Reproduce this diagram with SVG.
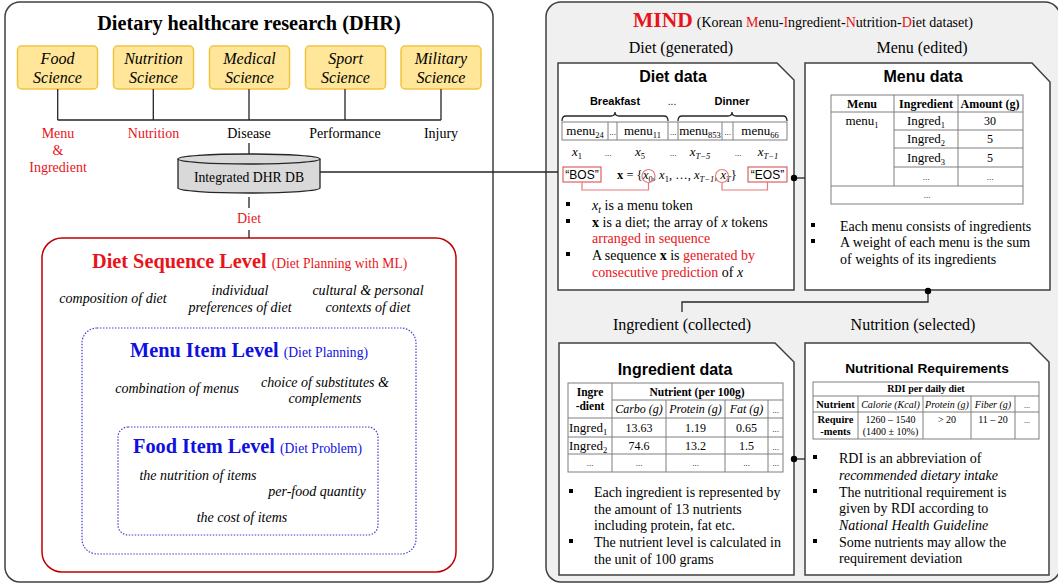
<svg xmlns="http://www.w3.org/2000/svg" width="1058" height="585" viewBox="0 0 1058 585">
<style>
.s{font-family:"Liberation Serif","Times New Roman",serif}
.a{font-family:"Liberation Sans",Arial,sans-serif}
.i{font-style:italic}
.b{font-weight:bold}
.c{text-anchor:middle}
.red{fill:#e8141b}
.blue{fill:#1010e0}
.panel{stroke:#404040;stroke-width:1.5}
.card{fill:#fff;stroke:#404040;stroke-width:1.5}
.yb{fill:#ffe699;stroke:#f2c440;stroke-width:1.5}
.ln{stroke:#262626;stroke-width:1.3;fill:none}
.tb{stroke:#7f7f7f;stroke-width:1;fill:none}
.pk{stroke:#e87a7a;stroke-width:1.2;fill:none}
.dot{fill:#000}
.bul{fill:#000}
.sb{font-size:8.5px;baseline-shift:-3px}
</style>

<!-- Left panel -->
<g id="dhr-panel">
<rect x="5" y="2" width="488" height="580" rx="15" fill="#fff" class="panel"/>
<text x="249" y="30" class="s b c" font-size="20.3">Dietary healthcare research (DHR)</text>
</g>

<g id="food-science"><rect x="17.5" y="46" width="80" height="43" rx="4" class="yb"/>
<text x="57.5" y="64" class="s i c" font-size="16">Food</text><text x="57.5" y="83" class="s i c" font-size="16">Science</text></g>
<g id="nutrition-science"><rect x="113.5" y="46" width="80" height="43" rx="4" class="yb"/>
<text x="153.5" y="64" class="s i c" font-size="16">Nutrition</text><text x="153.5" y="83" class="s i c" font-size="16">Science</text></g>
<g id="medical-science"><rect x="209.5" y="46" width="80" height="43" rx="4" class="yb"/>
<text x="249.5" y="64" class="s i c" font-size="16">Medical</text><text x="249.5" y="83" class="s i c" font-size="16">Science</text></g>
<g id="sport-science"><rect x="305.5" y="46" width="80" height="43" rx="4" class="yb"/>
<text x="345.5" y="64" class="s i c" font-size="16">Sport</text><text x="345.5" y="83" class="s i c" font-size="16">Science</text></g>
<g id="military-science"><rect x="401" y="46" width="80" height="43" rx="4" class="yb"/>
<text x="441" y="64" class="s i c" font-size="16">Military</text><text x="441" y="83" class="s i c" font-size="16">Science</text></g>

<g id="labels">
<text x="58" y="138" class="s c red" font-size="14">Menu</text>
<text x="58" y="155" class="s c red" font-size="14">&amp;</text>
<text x="58" y="172" class="s c red" font-size="14">Ingredient</text>
<text x="153.5" y="138" class="s c red" font-size="14">Nutrition</text>
<text x="249" y="138" class="s c" font-size="14">Disease</text>
<text x="345" y="138" class="s c" font-size="14">Performance</text>
<text x="441" y="138" class="s c" font-size="14">Injury</text>
<text x="249" y="223" class="s c red" font-size="14">Diet</text>
</g>

<g id="dhr-db">
<path d="M178,159 V188 A71,5 0 0 0 320,188 V159" fill="#d9d9d9" stroke="#262626" stroke-width="1.3"/>
<ellipse cx="249" cy="159" rx="71" ry="5" fill="#d9d9d9" stroke="#262626" stroke-width="1.3"/>
<text x="249" y="182" class="s c" font-size="13.7">Integrated DHR DB</text>
</g>

<g id="diet-sequence-level">
<rect x="42" y="238" width="414" height="334" rx="20" fill="none" stroke="#c00000" stroke-width="1.5"/>
<text x="92" y="268" class="s red"><tspan class="b" font-size="20.3">Diet Sequence Level </tspan><tspan font-size="13.6">(Diet Planning with ML)</tspan></text>
<text x="113" y="303" class="s i c" font-size="14">composition of diet</text>
<text x="240" y="295" class="s i c" font-size="14">individual</text>
<text x="240" y="312" class="s i c" font-size="14">preferences of diet</text>
<text x="368" y="295" class="s i c" font-size="14">cultural &amp; personal</text>
<text x="368" y="312" class="s i c" font-size="14">contexts of diet</text>
</g>

<g id="menu-item-level">
<rect x="82" y="328" width="334" height="226" rx="15" fill="none" stroke="#4040d0" stroke-width="1.2" stroke-dasharray="1.5,1.5"/>
<text x="130" y="357" class="s blue"><tspan class="b" font-size="20.3">Menu Item Level </tspan><tspan font-size="13.6">(Diet Planning)</tspan></text>
<text x="177" y="393" class="s i c" font-size="14">combination of menus</text>
<text x="325" y="387" class="s i c" font-size="14">choice of substitutes &amp;</text>
<text x="325" y="403" class="s i c" font-size="14">complements</text>
</g>

<g id="food-item-level">
<rect x="118" y="427" width="260" height="108" rx="10" fill="none" stroke="#4040d0" stroke-width="1.2" stroke-dasharray="1.5,1.5"/>
<text x="133" y="453" class="s blue"><tspan class="b" font-size="20.3">Food Item Level </tspan><tspan font-size="13.6">(Diet Problem)</tspan></text>
<text x="198" y="480" class="s i c" font-size="14">the nutrition of items</text>
<text x="317" y="496" class="s i c" font-size="14">per-food quantity</text>
<text x="242" y="522" class="s i c" font-size="14">the cost of items</text>
</g>

<!-- Right panel -->
<g id="mind-panel">
<rect x="546" y="2" width="514" height="580" rx="15" fill="#f0f0f0" class="panel"/>
<text x="633" y="27" class="s"><tspan class="b red" font-size="21.5">MIND</tspan><tspan font-size="14" dx="4">(Korean </tspan><tspan font-size="14" class="red">M</tspan><tspan font-size="14">enu-</tspan><tspan font-size="14" class="red">I</tspan><tspan font-size="14">ngredient-</tspan><tspan font-size="14" class="red">N</tspan><tspan font-size="14">utrition-</tspan><tspan font-size="14" class="red">D</tspan><tspan font-size="14">iet  dataset)</tspan></text>
<text x="681" y="53" class="s c" font-size="16">Diet (generated)</text>
<text x="922" y="53" class="s c" font-size="16">Menu (edited)</text>
<text x="682" y="330" class="s c" font-size="16">Ingredient  (collected)</text>
<text x="913" y="330" class="s c" font-size="16">Nutrition (selected)</text>
</g>

<g id="diet-data">
<path d="M558,63 H777 L794,80 V290 H558 Z" class="card"/>
<text x="673" y="82" class="a b c" font-size="16">Diet data</text>
<text x="615" y="105" class="a b c" font-size="11">Breakfast</text>
<text x="672" y="105" class="a c" font-size="10">...</text>
<text x="732" y="105" class="a b c" font-size="11">Dinner</text>
<path d="M562,121 Q562,116 566,116 H611 Q615,116 615,112 Q615,116 619,116 H664 Q668,116 668,121" class="ln" stroke-width="1"/>
<path d="M678,121 Q678,116 682,116 H728 Q732,116 732,112 Q732,116 736,116 H783 Q787,116 787,121" class="ln" stroke-width="1"/>
<rect x="562" y="122" width="225" height="18" class="tb"/>
<path d="M608,122V140M617,122V140M668,122V140M678,122V140M722,122V140M733,122V140" class="tb"/>
<g class="s c" font-size="13">
<text x="585" y="135">menu<tspan class="sb">24</tspan></text>
<text x="612.5" y="135" font-size="9">...</text>
<text x="642.5" y="135">menu<tspan class="sb">11</tspan></text>
<text x="673" y="135" font-size="9">...</text>
<text x="700" y="135">menu<tspan class="sb">853</tspan></text>
<text x="727.5" y="135" font-size="9">...</text>
<text x="760" y="135">menu<tspan class="sb">66</tspan></text>
</g>
<g class="s c" font-size="13">
<text x="577" y="156"><tspan class="i">x</tspan><tspan class="sb">1</tspan></text>
<text x="608" y="156" font-size="9">...</text>
<text x="640" y="156"><tspan class="i">x</tspan><tspan class="sb">5</tspan></text>
<text x="673" y="156" font-size="9">...</text>
<text x="700" y="156"><tspan class="i">x</tspan><tspan class="sb i">T−5</tspan></text>
<text x="738" y="156" font-size="9">...</text>
<text x="768" y="156"><tspan class="i">x</tspan><tspan class="sb i">T−1</tspan></text>
</g>
<rect x="563" y="167" width="38" height="15" fill="#fff" stroke="#e06060" stroke-width="1.2"/>
<text x="582" y="179" class="a c" font-size="12">“BOS”</text>
<rect x="748" y="167" width="39" height="15" fill="#fff" stroke="#e06060" stroke-width="1.2"/>
<text x="767.5" y="179" class="a c" font-size="12">“EOS”</text>
<text x="617" y="179" class="s" font-size="12.5"><tspan class="b">x</tspan> = {<tspan x="643" class="i">x</tspan><tspan class="sb">0</tspan>, <tspan class="i">x</tspan><tspan class="sb">1</tspan>, …, <tspan class="i">x</tspan><tspan class="sb i">T−1</tspan>, <tspan class="i">x</tspan><tspan class="sb i">T</tspan>}</text>
<circle cx="648.5" cy="176" r="6.5" class="pk"/>
<circle cx="722" cy="176" r="6.5" class="pk"/>
<path d="M582,182 V190 H648.5 V182.5 M722,182.5 V190 H767.5 V182" class="pk"/>
<rect x="566" y="202" width="4" height="4" class="bul"/>
<rect x="566" y="219" width="4" height="4" class="bul"/>
<rect x="566" y="252" width="4" height="4" class="bul"/>
<g class="s" font-size="14">
<text x="592" y="210"><tspan class="i">x</tspan><tspan class="i" font-size="10" baseline-shift="-3">t</tspan> is a menu token</text>
<text x="592" y="227"><tspan class="b">x</tspan> is a diet; the array of <tspan class="i">x</tspan> tokens</text>
<text x="592" y="243" class="red">arranged in sequence</text>
<text x="592" y="260">A sequence <tspan class="b">x</tspan> is <tspan class="red">generated by</tspan></text>
<text x="592" y="277"><tspan class="red">consecutive prediction</tspan> of <tspan class="i">x</tspan></text>
</g>
</g>

<g id="menu-data">
<path d="M805,63 H1032 L1050,82 V290 H805 Z" class="card"/>
<text x="923" y="82" class="a b c" font-size="16">Menu data</text>
<rect x="831" y="95" width="192" height="109" class="tb"/>
<path d="M831,112H1023M894,95V186M958,95V186M894,130H1023M894,148H1023M894,167H1023M831,186H1023" class="tb"/>
<g class="s c" font-size="12">
<text x="862" y="108" class="b">Menu</text>
<text x="926" y="108" class="b">Ingredient</text>
<text x="990" y="108" class="b">Amount (g)</text>
<text x="862" y="125" font-size="13">menu<tspan class="sb">1</tspan></text>
<text x="926" y="125" font-size="13">Ingred<tspan class="sb">1</tspan></text>
<text x="990" y="125">30</text>
<text x="926" y="143" font-size="13">Ingred<tspan class="sb">2</tspan></text>
<text x="990" y="143">5</text>
<text x="926" y="162" font-size="13">Ingred<tspan class="sb">3</tspan></text>
<text x="990" y="162">5</text>
<text x="926" y="180" font-size="9">...</text>
<text x="990" y="180" font-size="9">...</text>
<text x="927" y="198" font-size="9">...</text>
</g>
<rect x="811" y="223" width="4" height="4" class="bul"/>
<rect x="811" y="239" width="4" height="4" class="bul"/>
<g class="s" font-size="14">
<text x="840" y="231">Each menu consists of ingredients</text>
<text x="840" y="247">A weight of each menu is the sum</text>
<text x="840" y="264">of weights of its ingredients</text>
</g>
</g>

<g id="ingredient-data">
<path d="M559,343 H775 L794,362 V575 H559 Z" class="card"/>
<text x="675" y="375" class="a b c" font-size="16">Ingredient data</text>
<rect x="568" y="383" width="215" height="89" class="tb"/>
<path d="M612,400H783M568,418H783M568,437H783M568,454H783M612,383V472M666,400V472M725,400V472M768,400V472" class="tb"/>
<g class="s c" font-size="12">
<text x="590" y="396" class="b" font-size="11.5">Ingre</text>
<text x="590" y="410" class="b" font-size="11.5">-dient</text>
<text x="697" y="396" class="b" font-size="11.5">Nutrient (per 100g)</text>
<text x="639" y="413" class="i">Carbo (g)</text>
<text x="695.5" y="413" class="i">Protein (g)</text>
<text x="746.5" y="413" class="i">Fat (g)</text>
<text x="775.5" y="413" font-size="9">...</text>
<text x="569" y="432" font-size="13" text-anchor="start">Ingred<tspan class="sb">1</tspan></text>
<text x="639" y="432">13.63</text>
<text x="695.5" y="432">1.19</text>
<text x="746.5" y="432">0.65</text>
<text x="775.5" y="432" font-size="9">...</text>
<text x="569" y="450" font-size="13" text-anchor="start">Ingred<tspan class="sb">2</tspan></text>
<text x="639" y="450">74.6</text>
<text x="695.5" y="450">13.2</text>
<text x="746.5" y="450">1.5</text>
<text x="775.5" y="450" font-size="9">...</text>
<text x="590" y="466" font-size="9">...</text>
<text x="639" y="466" font-size="9">...</text>
<text x="695.5" y="466" font-size="9">...</text>
<text x="746.5" y="466" font-size="9">...</text>
<text x="775.5" y="466" font-size="9">...</text>
</g>
<rect x="569" y="489" width="4" height="4" class="bul"/>
<rect x="569" y="539" width="4" height="4" class="bul"/>
<g class="s" font-size="14">
<text x="594" y="497">Each ingredient is represented by</text>
<text x="594" y="514">the amount of 13 nutrients</text>
<text x="594" y="530">including protein, fat etc.</text>
<text x="594" y="547">The nutrient level is calculated in</text>
<text x="594" y="564">the unit of 100 grams</text>
</g>
</g>

<g id="nutrition-data">
<path d="M805,343 H1030 L1049,362 V575 H805 Z" class="card"/>
<text x="927" y="373" class="a b c" font-size="13.7">Nutritional Requirements</text>
<rect x="813" y="382" width="226" height="57" class="tb"/>
<path d="M813,396H1039M813,412H1039M858,396V439M923,396V439M971,396V439M1015,396V439" class="tb"/>
<g class="s c" font-size="10">
<text x="926" y="392" class="b">RDI per daily diet</text>
<text x="835.5" y="408" class="b" font-size="10.5">Nutrient</text>
<text x="890.5" y="408" class="i">Calorie (Kcal)</text>
<text x="947" y="408" class="i">Protein (g)</text>
<text x="993" y="408" class="i">Fiber (g)</text>
<text x="1027" y="408" font-size="8">...</text>
<text x="835.5" y="423" class="b" font-size="10.5">Require</text>
<text x="835.5" y="435" class="b" font-size="10.5">-ments</text>
<text x="890.5" y="423">1260 – 1540</text>
<text x="890.5" y="435">(1400 ± 10%)</text>
<text x="947" y="423">&gt; 20</text>
<text x="993" y="423">11 – 20</text>
<text x="1027" y="423" font-size="8">...</text>
</g>
<rect x="813" y="455" width="4" height="4" class="bul"/>
<rect x="813" y="489" width="4" height="4" class="bul"/>
<rect x="813" y="539" width="4" height="4" class="bul"/>
<g class="s" font-size="14">
<text x="839" y="463">RDI is an abbreviation of</text>
<text x="839" y="480" class="i">recommended dietary intake</text>
<text x="839" y="497">The nutritional requirement is</text>
<text x="839" y="513">given by RDI according to</text>
<text x="839" y="530" class="i">National Health Guideline</text>
<text x="839" y="547">Some nutrients may allow the</text>
<text x="839" y="563">requirement deviation</text>
</g>
</g>

<g id="connectors">
<path d="M57.7,89V120M153.3,89V120M249,89V120M345,89V120M441,89V120M57.7,120H441" class="ln"/>
<path d="M249,143V154M249,197V208M249,230V238" class="ln"/>
<path d="M320,172H558" class="ln"/>
<path d="M794,178H805" class="ln"/>
<circle cx="794" cy="178" r="3.2" class="dot"/>
<path d="M928,291V302H682V312" class="ln"/>
<circle cx="928" cy="291" r="3.2" class="dot"/>
<path d="M794,459H805" class="ln"/>
<circle cx="794" cy="459" r="3.2" class="dot"/>
</g>
</svg>
